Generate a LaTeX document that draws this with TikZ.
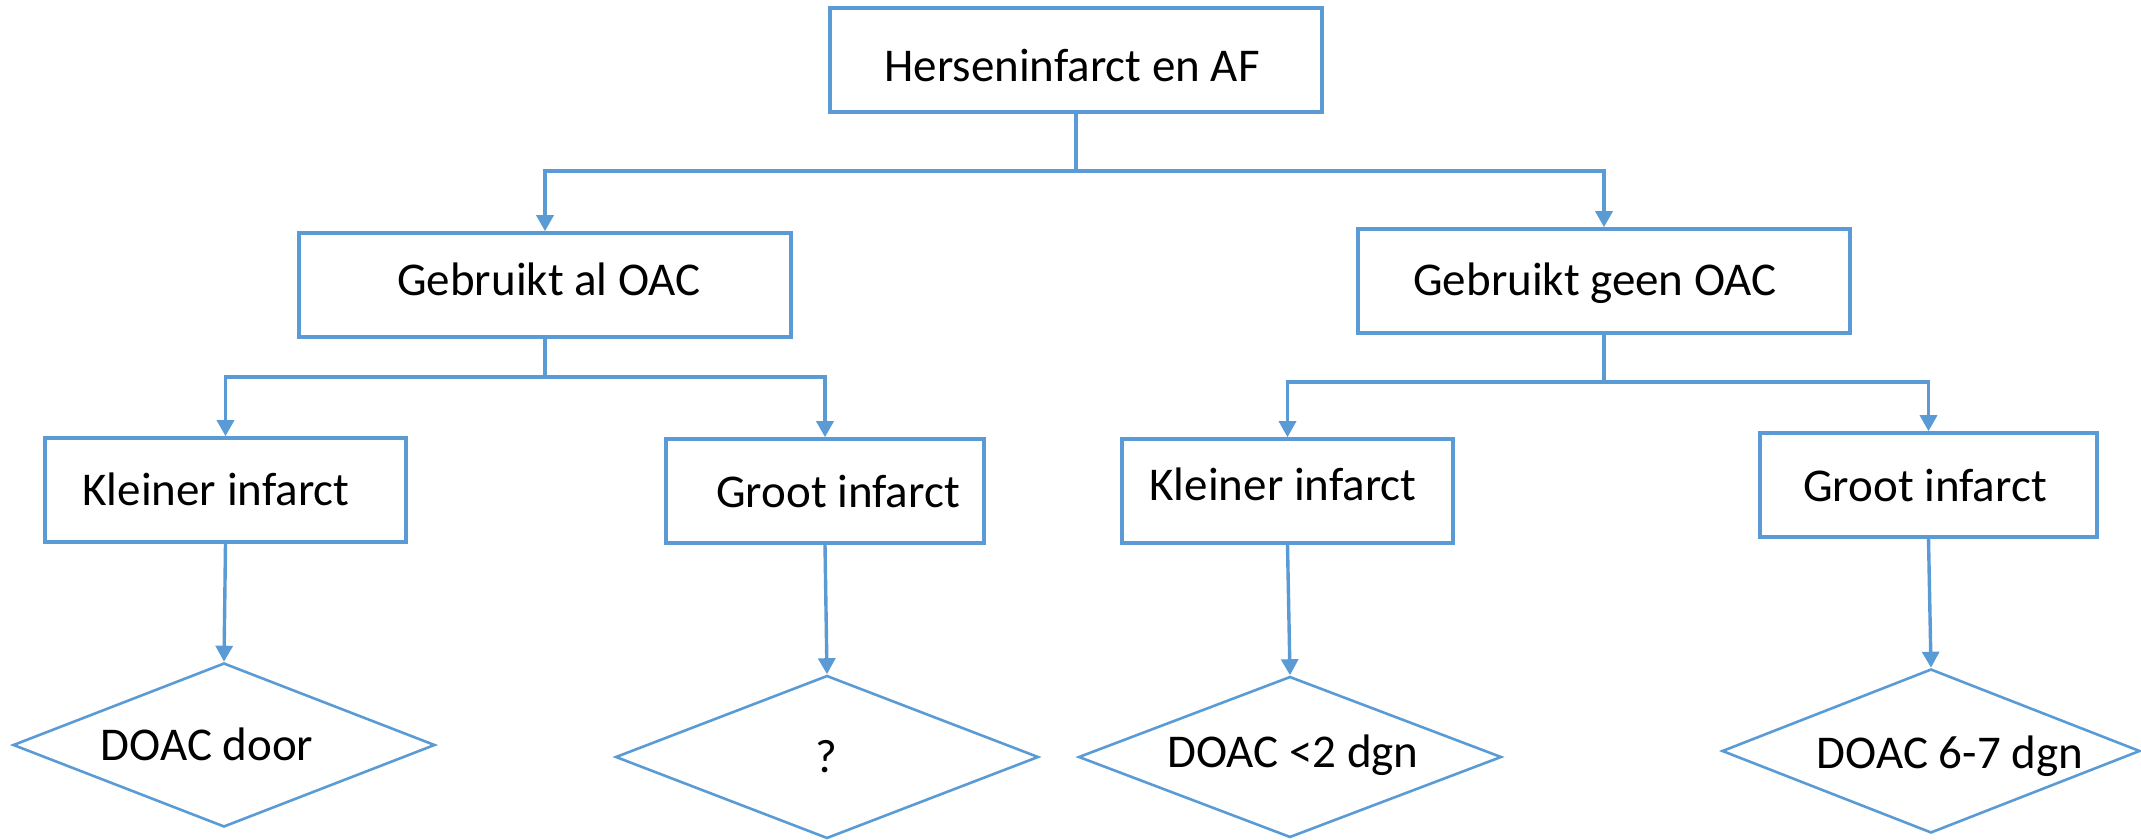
\documentclass[tikz,border=0pt]{standalone}
\usepackage{fontspec}
\setmainfont{Carlito}
\usetikzlibrary{arrows.meta,shapes.geometric}
\definecolor{oblue}{HTML}{5B9BD5}
\begin{document}
\begin{tikzpicture}[x=0.5pt,y=-0.5pt,
  boxnode/.style={draw=oblue,line width=1.8pt,rectangle,inner sep=0pt,minimum height=52pt},
  dianode/.style={draw=oblue,line width=1.3pt,diamond,inner sep=0pt},
  txt/.style={anchor=base,inner sep=0pt,font=\fontsize{23.5}{28}\selectfont},
  conn/.style={draw=oblue,line width=1.7pt},
  arr/.style={conn,-{Triangle[width=8.5pt,length=8pt]}}]
\useasboundingbox (0,0) rectangle (2141,840);
% boxes
\node[boxnode,minimum width=246pt] (top) at (1076,60) {};
\node[boxnode,minimum width=246pt] (ga) at (545,285) {};
\node[boxnode,minimum width=246pt] (gg) at (1604,281) {};
\node[boxnode,minimum width=180.5pt] (kl) at (225.5,490) {};
\node[boxnode,minimum width=159pt] (gl) at (825,491) {};
\node[boxnode,minimum width=165.5pt] (kr) at (1287.5,491) {};
\node[boxnode,minimum width=168.5pt] (gr) at (1928.5,485) {};
% diamonds
\node[dianode,minimum width=211pt,minimum height=82pt] (d1) at (224,745) {};
\node[dianode,minimum width=211.5pt,minimum height=81.5pt] (d2) at (827,757) {};
\node[dianode,minimum width=211.5pt,minimum height=80.5pt] (d3) at (1290,757) {};
\node[dianode,minimum width=209pt,minimum height=82pt] (d4) at (1931,751) {};
% texts
\node[txt] (ttop) at (1072,82) {Herseninfarct en AF};
\node[txt] (tga) at (549,295) {Gebruikt al OAC};
\node[txt] (tgg) at (1595,295) {Gebruikt geen OAC};
\node[txt] (tkl) at (216,505) {Kleiner infarct};
\node[txt] (tgl) at (838,507) {Groot infarct};
\node[txt] (tkr) at (1283,500) {Kleiner infarct};
\node[txt] (tgr) at (1925,501) {Groot infarct};
\node[txt] (td1) at (207,760) {DOAC door};
\node[txt] (td2) at (826,772) {?};
\node[txt] (td3) at (1293,767) {DOAC {<}2 dgn};
\node[txt] (td4) at (1950,768) {DOAC 6-7 dgn};
% bus coordinates
\coordinate (b0) at (1076,171);
\coordinate (b1) at (545,377);
\coordinate (b2) at (1604,382);
% connectors
\draw[conn] (top.south) -- (b0);
\draw[arr] (b0) -| (ga.north);
\draw[arr] (b0) -| (gg.north);
\draw[conn] (ga.south) -- (b1);
\draw[arr] (b1) -| (kl.north);
\draw[arr] (b1) -| (gl.north);
\draw[conn] (gg.south) -- (b2);
\draw[arr] (b2) -| (kr.north);
\draw[arr] (b2) -| (gr.north);
\draw[arr] (kl.south) -- (d1.north);
\draw[arr] (gl.south) -- (d2.north);
\draw[arr] (kr.south) -- (d3.north);
\draw[arr] (gr.south) -- (d4.north);
\end{tikzpicture}
\end{document}
